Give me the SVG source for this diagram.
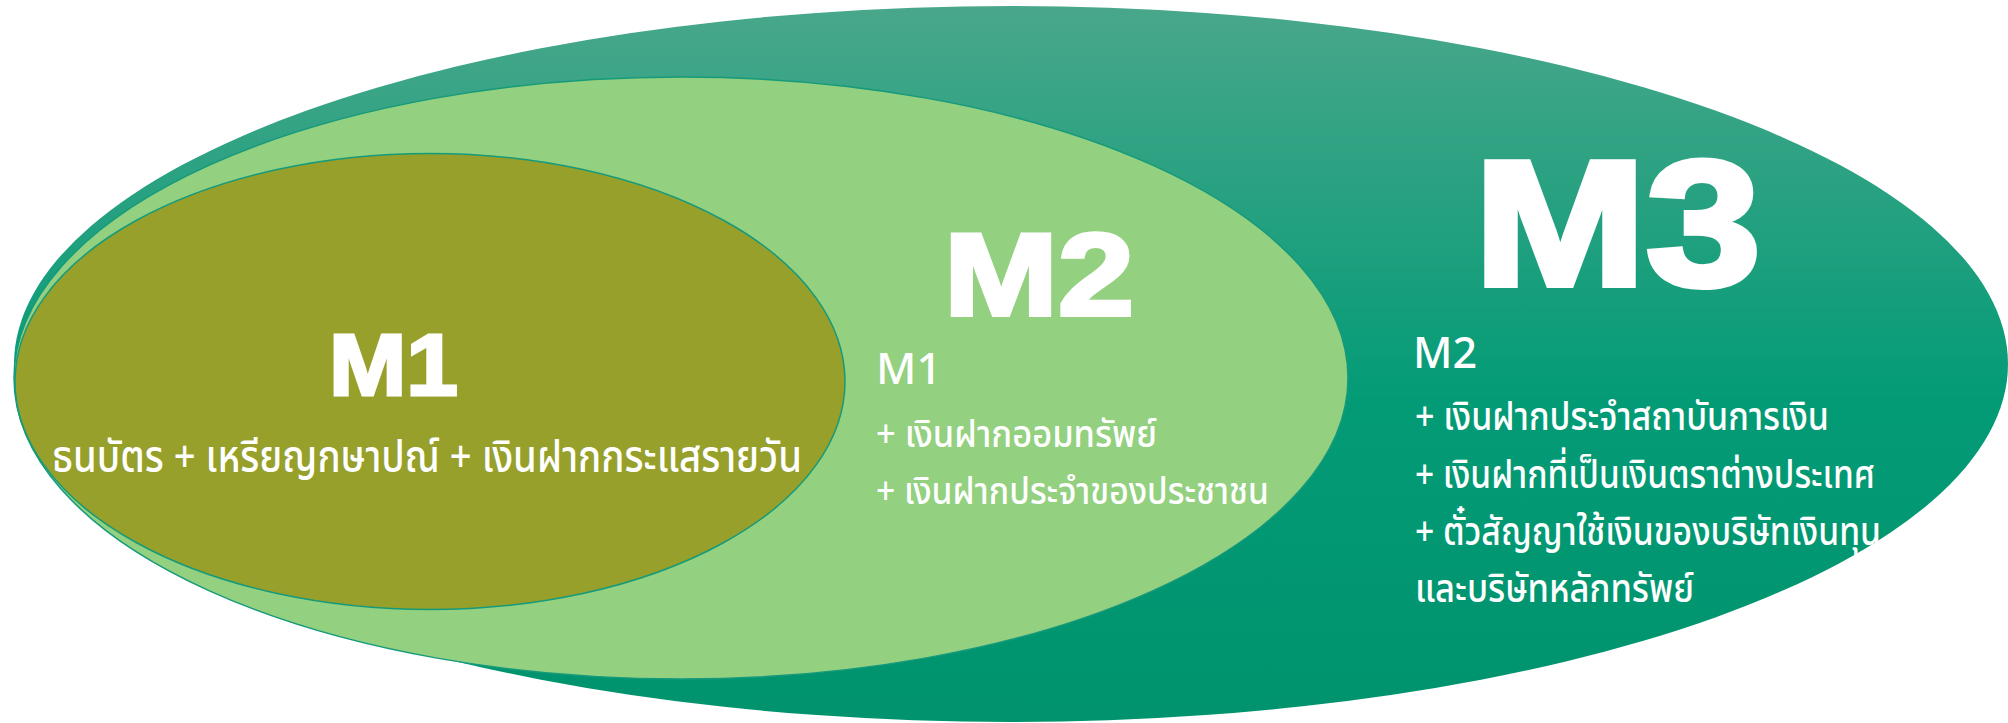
<svg xmlns="http://www.w3.org/2000/svg" width="2008" height="723" viewBox="0 0 2008 723">
<style>
.ring{stroke:#169a7c;stroke-width:1.5}
.big{font-family:"Liberation Sans",Arial,sans-serif;font-weight:bold;fill:#fff;stroke:#fff;stroke-linejoin:miter}
.lbl{font-family:"Noto Sans","Noto Sans Thai",sans-serif;fill:#fff;font-weight:500}
.th{font-family:"Noto Sans Thai","Noto Sans","Noto Sans Thai UI",sans-serif;fill:#fff;font-weight:500}
</style>
<defs>
<linearGradient id="g3" x1="0" y1="0" x2="0" y2="1">
<stop offset="0" stop-color="#49a78b"/>
<stop offset="0.55" stop-color="#039b76"/>
<stop offset="1" stop-color="#00936d"/>
</linearGradient>
</defs>
<g id="m3">
<ellipse cx="1011" cy="364" rx="997" ry="358" fill="url(#g3)"/>
<text class="big" x="1474" y="285" font-size="178" stroke-width="6" textLength="287" lengthAdjust="spacingAndGlyphs">M3</text>
<text class="lbl" x="1413" y="368" font-size="43">M2</text>
<text class="th" x="1415" y="430" font-size="40" textLength="414" lengthAdjust="spacingAndGlyphs">+ เงินฝากประจำสถาบันการเงิน</text>
<text class="th" x="1415" y="488" font-size="40" textLength="460" lengthAdjust="spacingAndGlyphs">+ เงินฝากที่เป็นเงินตราต่างประเทศ</text>
<text class="th" x="1415" y="545" font-size="40" textLength="466" lengthAdjust="spacingAndGlyphs">+ ตั๋วสัญญาใช้เงินของบริษัทเงินทุน</text>
<text class="th" x="1415" y="602" font-size="40" textLength="279" lengthAdjust="spacingAndGlyphs">และบริษัทหลักทรัพย์</text>
</g>
<g id="m2">
<ellipse class="ring" cx="681" cy="378" rx="667" ry="301" fill="#93d07f"/>
<text class="big" x="944" y="315" font-size="117" stroke-width="4" textLength="190" lengthAdjust="spacingAndGlyphs">M2</text>
<text class="lbl" x="876" y="384" font-size="44">M1</text>
<text class="th" x="876" y="447" font-size="38" textLength="281" lengthAdjust="spacingAndGlyphs">+ เงินฝากออมทรัพย์</text>
<text class="th" x="876" y="504" font-size="38" textLength="393" lengthAdjust="spacingAndGlyphs">+ เงินฝากประจำของประชาชน</text>
</g>
<g id="m1">
<ellipse class="ring" cx="430" cy="381.5" rx="415" ry="228" fill="#96a02a"/>
<text class="big" x="329" y="394.5" font-size="88" stroke-width="3" textLength="129" lengthAdjust="spacingAndGlyphs">M1</text>
<text class="th" x="52" y="472" font-size="44" textLength="750" lengthAdjust="spacingAndGlyphs">ธนบัตร + เหรียญกษาปณ์ + เงินฝากกระแสรายวัน</text>
</g>
<g id="connectors"/>
</svg>
